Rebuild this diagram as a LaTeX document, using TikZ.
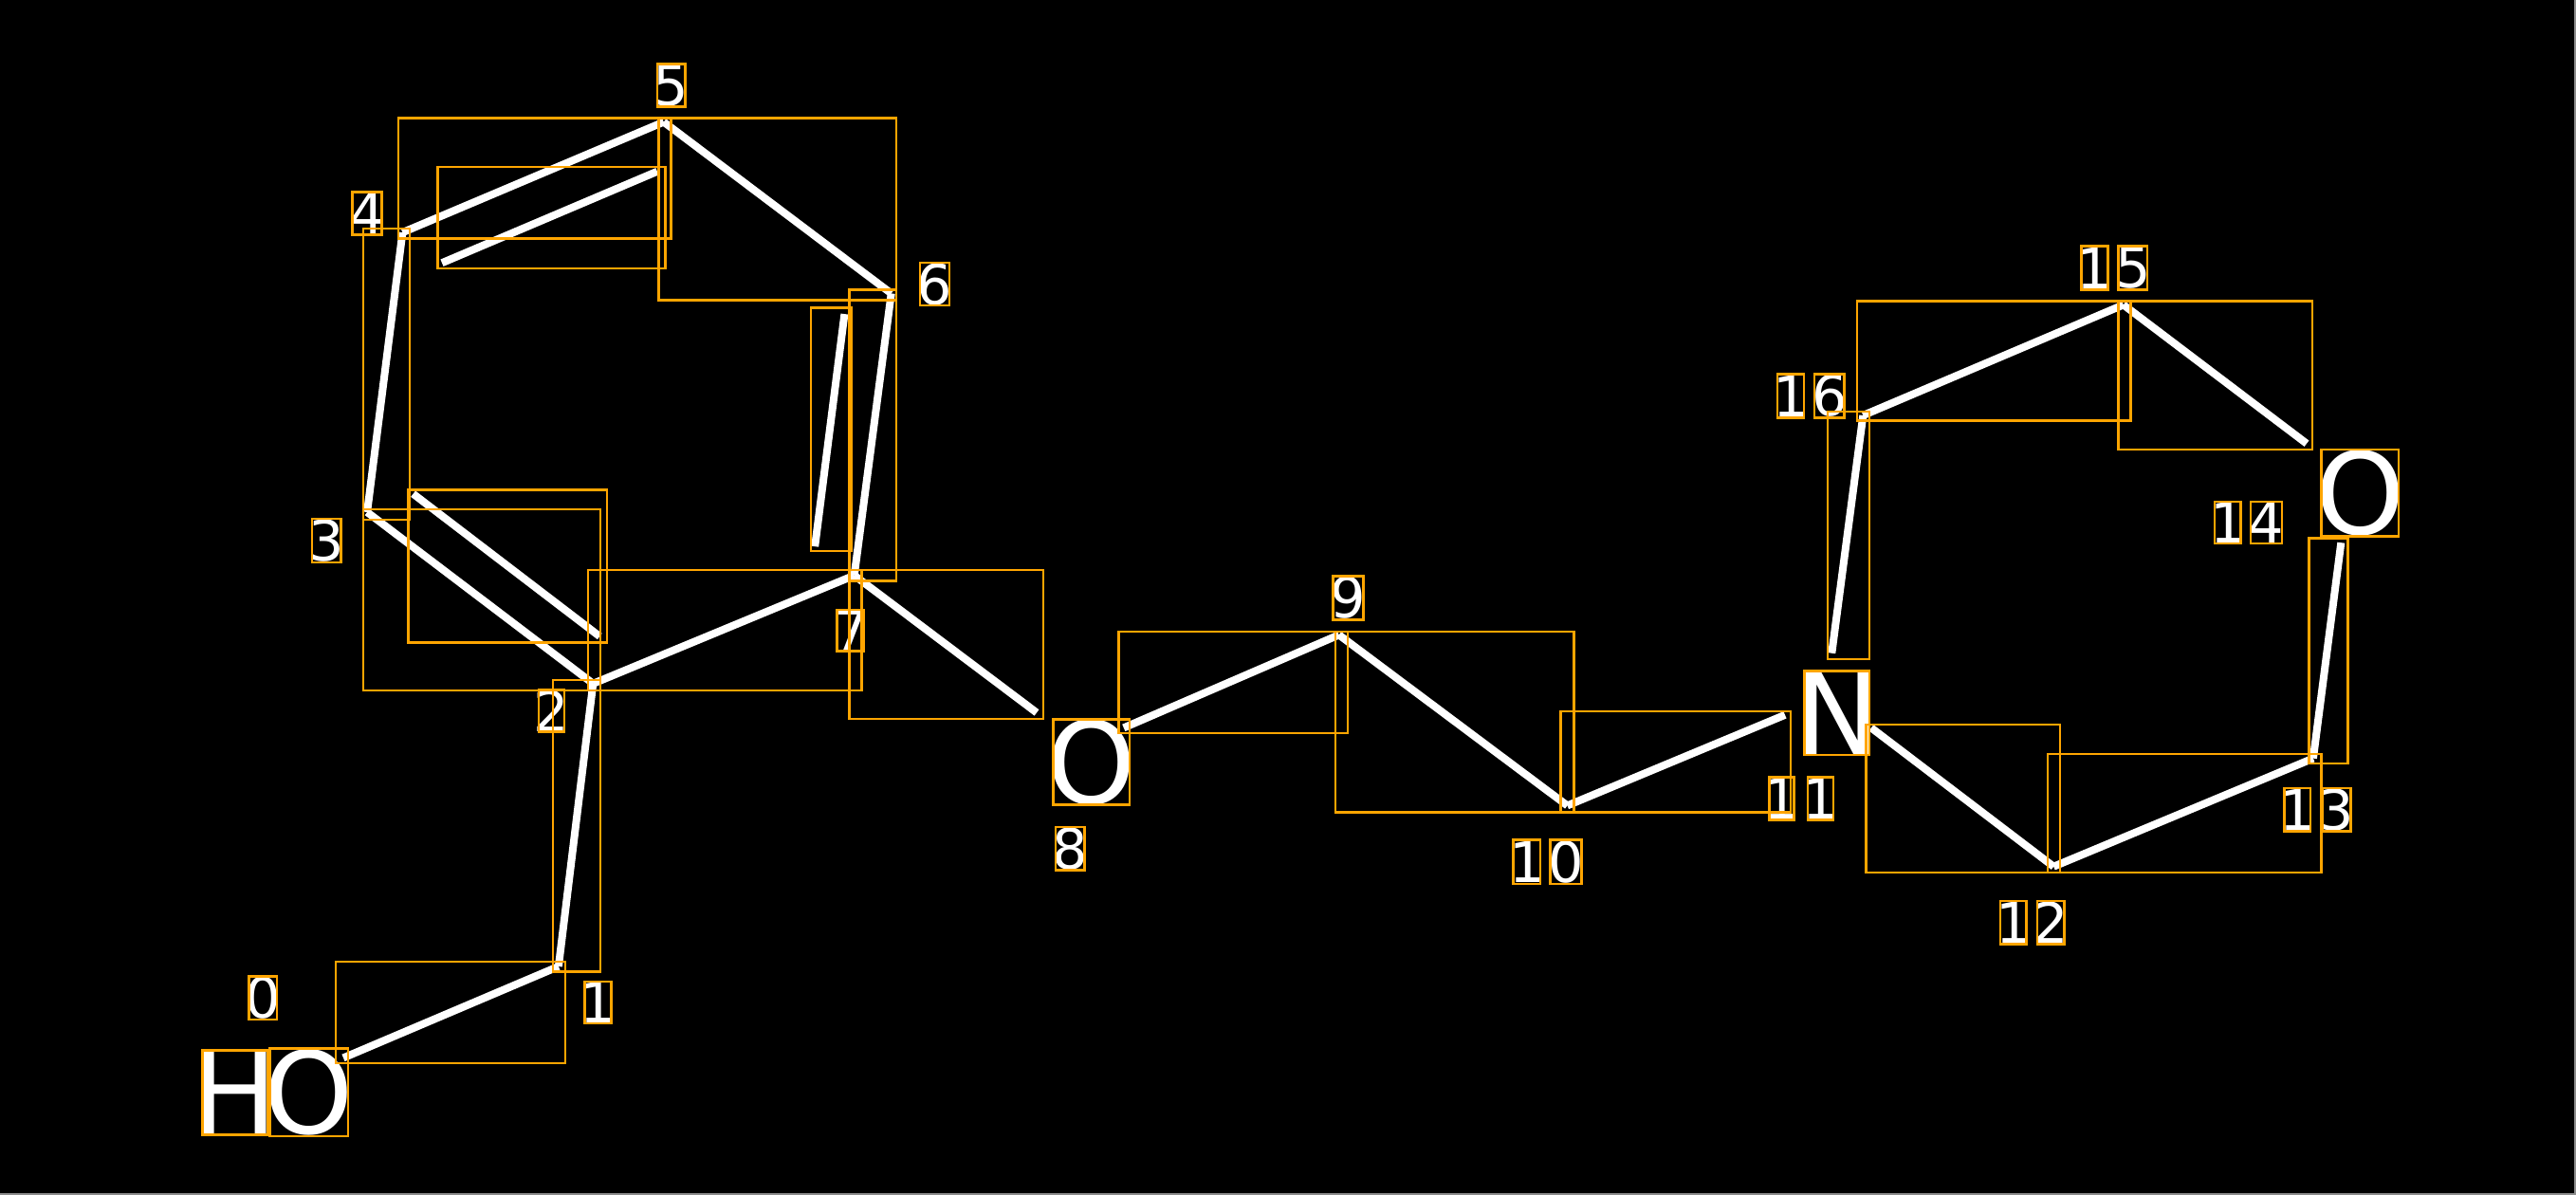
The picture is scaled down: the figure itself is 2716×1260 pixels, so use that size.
\documentclass[tikz,border=0pt]{standalone}
\usepackage{fontspec}
\setmainfont{DejaVu Sans}
\definecolor{ob}{RGB}{255,165,0}
\definecolor{edgegray}{RGB}{140,140,140}
\tikzset{
  bond/.style={white, line width=8pt, line cap=butt},
  obox/.style={draw=ob, line width=2.5pt},
  big/.style={text=white, inner sep=0pt, font=\fontsize{120}{120}\selectfont},
  idx/.style={text=white, inner sep=0pt, font=\fontsize{59}{59}\selectfont},
}
\begin{document}
\begin{tikzpicture}[x=1pt,y=-1pt]
\useasboundingbox (0,0) rectangle (2716,1260);
\fill[black] (0,0) rectangle (2716,1260);
\draw[edgegray, line width=2pt] (2715,0) -- (2715,1259) -- (0,1259);

% atoms
\coordinate (a1) at (588.9,1019.0);
\coordinate (a2) at (625.3,720.8);
\coordinate (a3) at (387.1,540.0);
\coordinate (a4) at (424.4,245.1);
\coordinate (a5) at (699.8,128.6);
\coordinate (a6) at (939.7,309.4);
\coordinate (a7) at (900.7,606.7);
\coordinate (a9) at (1411.7,669.4);
\coordinate (a10) at (1652.5,849.4);
\coordinate (a12) at (2165.2,913.7);
\coordinate (a13) at (2438.9,799.6);
\coordinate (a15) at (2238.8,321.4);
\coordinate (a16) at (1964.3,438.0);
% bond ends near labels
\coordinate (e0) at (362.0,1115.4);
\coordinate (e8a) at (1093.0,751.4);
\coordinate (e8b) at (1184.8,767.4);
\coordinate (e11a) at (1882.0,753.8);
\coordinate (e11b) at (1972.9,767.4);
\coordinate (e11c) at (1931.3,688.7);
\coordinate (e14a) at (2468.3,572.2);
\coordinate (e14b) at (2432.0,467.7);
% inner double-bond lines
\coordinate (d23a) at (435.6,520.7);
\coordinate (d23b) at (632.3,671.0);
\coordinate (d45a) at (466.0,277.2);
\coordinate (d45b) at (692.9,180.8);
\coordinate (d67a) at (890.4,331.1);
\coordinate (d67b) at (859.2,576.2);

% bonds
\draw[bond] (e0) -- (a1);
\draw[bond] (a1) -- (a2);
\draw[bond] (a2) -- (a3);
\draw[bond] (d23a) -- (d23b);
\draw[bond] (a3) -- (a4);
\draw[bond] (a4) -- (a5);
\draw[bond] (d45a) -- (d45b);
\draw[bond] (a5) -- (a6);
\draw[bond] (a6) -- (a7);
\draw[bond] (d67a) -- (d67b);
\draw[bond] (a7) -- (a2);
\draw[bond] (a7) -- (e8a);
\draw[bond] (e8b) -- (a9);
\draw[bond] (a9) -- (a10);
\draw[bond] (a10) -- (e11a);
\draw[bond] (e11b) -- (a12);
\draw[bond] (a12) -- (a13);
\draw[bond] (a13) -- (e14a);
\draw[bond] (a15) -- (e14b);
\draw[bond] (a16) -- (a15);
\draw[bond] (a16) -- (e11c);

% atom symbols
\node[big] (tH) at (247.8,1152.0) {H};
\node[big] (tO0) at (325.7,1151.7) {O};
\node[big] (tO8) at (1150.6,803.6) {O};
\node[big] (tN) at (1936.9,751.9) {N};
\node[big] (tO14) at (2488.3,519.9) {O};

% index labels
\node[idx] (i0) at (277.2,1052.3) {0};
\node[idx] (i1) at (630.6,1057.1) {1};
\node[idx] (i2) at (581.6,749.4) {2};
\node[idx] (i3) at (344.3,570.2) {3};
\node[idx] (i4) at (387.2,225.0) {4};
\node[idx] (i5) at (707.6,90.0) {5};
\node[idx] (i6) at (985.6,299.7) {6};
\node[idx] (i7) at (896.9,664.6) {7};
\node[idx] (i8) at (1128.1,894.8) {8};
\node[idx] (i9) at (1421.7,630.4) {9};
\node[idx] (i10a) at (1609.9,908.7) {1};
\node[idx] (i10b) at (1651.0,908.7) {0};
\node[idx] (i11a) at (1878.5,842.2) {1};
\node[idx] (i11b) at (1919.7,842.2) {1};
\node[idx] (i12a) at (2122.8,972.8) {1};
\node[idx] (i12b) at (2162.2,972.8) {2};
\node[idx] (i13a) at (2422.4,853.8) {1};
\node[idx] (i13b) at (2463.6,853.8) {3};
\node[idx] (i14a) at (2348.9,550.9) {1};
\node[idx] (i14b) at (2389.6,550.9) {4};
\node[idx] (i15a) at (2208.5,282.5) {1};
\node[idx] (i15b) at (2248.8,282.5) {5};
\node[idx] (i16a) at (1888.1,417.5) {1};
\node[idx] (i16b) at (1928.8,417.5) {6};

% bond bounding boxes
\draw[obox] (420.1,124.6) rectangle (707.6,251.5);
\draw[obox] (461.6,176.0) rectangle (701.5,282.9);
\draw[obox] (694.6,124.6) rectangle (944.9,316.6);
\draw[obox] (382.8,241.1) rectangle (432.2,548.1);
\draw[obox] (382.8,536.8) rectangle (633.1,728.1);
\draw[obox] (430.4,516.7) rectangle (640.0,677.4);
\draw[obox] (620.1,601.1) rectangle (908.5,728.1);
\draw[obox] (582.9,716.8) rectangle (633.1,1024.6);
\draw[obox] (354.2,1014.1) rectangle (595.9,1121.0);
\draw[obox] (895.5,305.4) rectangle (944.9,612.3);
\draw[obox] (854.8,324.7) rectangle (897.3,581.0);
\draw[obox] (895.5,601.1) rectangle (1100.2,758.0);
\draw[obox] (1179.4,666.2) rectangle (1421.2,773.2);
\draw[obox] (1408.2,666.2) rectangle (1659.4,856.6);
\draw[obox] (1645.5,749.8) rectangle (1888.0,856.6);
\draw[obox] (1967.7,764.2) rectangle (2172.1,920.1);
\draw[obox] (2159.1,794.8) rectangle (2447.5,920.1);
\draw[obox] (2434.6,567.3) rectangle (2475.3,805.2);
\draw[obox] (2233.6,317.4) rectangle (2438.0,474.1);
\draw[obox] (1958.2,317.4) rectangle (2246.6,443.6);
\draw[obox] (1927.0,434.0) rectangle (1971.2,695.1);

% character boxes
\draw[obox] (213.3,1107.7) rectangle (282.3,1196.3);
\draw[obox] (284.3,1105.3) rectangle (367.0,1198.0);
\draw[obox] (1110.3,758.6) rectangle (1190.9,848.6);
\draw[obox] (1902.7,707.7) rectangle (1971.0,796.0);
\draw[obox] (2447.5,474.1) rectangle (2529.0,565.7);
\draw[obox] (262.4,1029.4) rectangle (291.9,1075.2);
\draw[obox] (616.7,1035.0) rectangle (644.4,1079.2);
\draw[obox] (568.2,727.3) rectangle (595.0,771.5);
\draw[obox] (329.1,547.2) rectangle (359.4,593.1);
\draw[obox] (371.6,202.5) rectangle (402.7,247.5);
\draw[obox] (692.9,67.5) rectangle (722.3,112.5);
\draw[obox] (970.0,277.2) rectangle (1001.2,322.2);
\draw[obox] (882.6,642.9) rectangle (911.1,686.3);
\draw[obox] (1112.9,871.9) rectangle (1143.3,917.7);
\draw[obox] (1405.6,607.5) rectangle (1437.7,653.3);
\draw[obox] (1595.7,885.3) rectangle (1624.0,932.0);
\draw[obox] (1634.7,885.3) rectangle (1667.3,932.0);
\draw[obox] (1865.5,819.7) rectangle (1891.5,864.7);
\draw[obox] (1906.2,819.7) rectangle (1933.1,864.7);
\draw[obox] (2108.9,949.9) rectangle (2136.6,995.7);
\draw[obox] (2147.9,949.9) rectangle (2176.4,995.7);
\draw[obox] (2408.6,830.9) rectangle (2436.2,876.7);
\draw[obox] (2448.4,830.9) rectangle (2478.7,876.7);
\draw[obox] (2335.0,528.8) rectangle (2362.7,573.0);
\draw[obox] (2373.1,528.8) rectangle (2406.0,573.0);
\draw[obox] (2194.7,259.6) rectangle (2222.3,305.4);
\draw[obox] (2233.6,259.6) rectangle (2263.9,305.4);
\draw[obox] (1874.2,394.6) rectangle (1901.9,440.4);
\draw[obox] (1913.2,394.6) rectangle (1944.3,440.4);
\end{tikzpicture}
\end{document}
